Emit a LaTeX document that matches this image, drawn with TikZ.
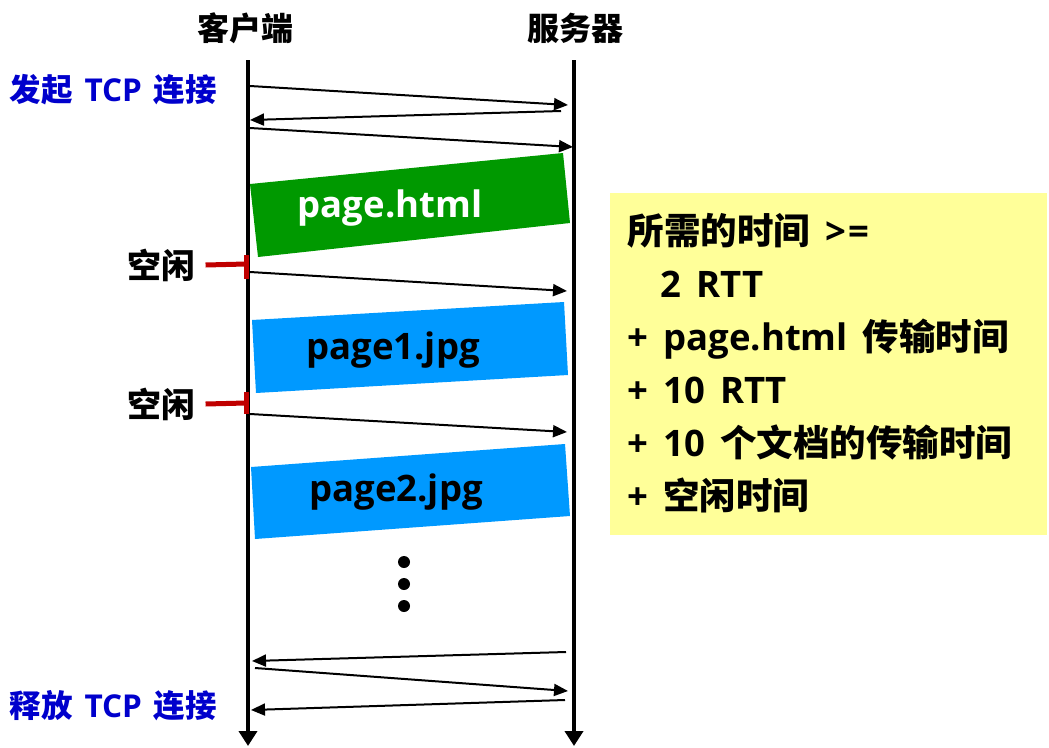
\documentclass[tikz,border=0pt]{standalone}
\usepackage{fontspec}
\setmainfont{Open Sans}
\newfontfamily\cjk{Noto Sans CJK SC}
\usetikzlibrary{arrows.meta}
\definecolor{pktgreen}{RGB}{0,153,0}
\definecolor{pktblue}{RGB}{0,153,255}
\definecolor{notebg}{RGB}{255,255,153}
\definecolor{idlered}{RGB}{192,0,0}
\definecolor{tcpblue}{RGB}{0,0,204}
\newcommand{\gap}{\hspace{15pt}}
\tikzset{
	lifeline/.style={line width=4.5pt,-{Triangle[length=15pt,width=18pt]}},
	msg/.style={line width=2pt,->},
	idlemark/.style={idlered,line width=5pt},
	head/.style={font=\fontsize{32}{36}\selectfont\bfseries\cjk},
	phase/.style={tcpblue,font=\fontsize{31.5}{36}\selectfont\bfseries,anchor=west},
	idletext/.style={font=\fontsize{34}{38}\selectfont\bfseries\cjk},
	pkttext/.style={font=\fontsize{36.5}{40}\selectfont\bfseries},
}
\begin{document}
\begin{tikzpicture}[>={Triangle[length=14pt,width=12pt]},x=1pt,y=-1pt]
		\useasboundingbox (0,0) rectangle (1049,747);
		% lifelines
		\node[head] (client) at (245,28) {客户端};
		\node[head] (server) at (575,28) {服务器};
		\coordinate (ctop) at (248,60);
		\coordinate (cbot) at (248,746);
		\coordinate (stop) at (574,60);
		\coordinate (sbot) at (574,746);
		\draw[lifeline] (ctop)--(cbot);
		\draw[lifeline] (stop)--(sbot);
		\node[phase] (open) at (6,90) {{\cjk 发起}\hspace{12pt}TCP\hspace{12pt}{\cjk 连接}};
		\node[phase] (close) at (6,706) {{\cjk 释放}\hspace{12pt}TCP\hspace{12pt}{\cjk 连接}};
		% handshake
		\coordinate (c1) at (250,86);  \coordinate (s1) at (568,105);
		\coordinate (s2) at (561,111); \coordinate (c2) at (250,120);
		\coordinate (c3) at (250,128); \coordinate (s3) at (573,147);
		\draw[msg] (c1)--(s1);
		\draw[msg] (s2)--(c2);
		\draw[msg] (c3)--(s3);
		% packets
		\fill[pktgreen] (250,184)--(563,153)--(570,223)--(258,257)--cycle;
		\node[pkttext,white] (html) at (390,208) {page.html};
		\fill[pktblue] (252,320)--(564,302)--(568,375)--(256,393)--cycle;
		\node[pkttext] (jpg1) at (393,350) {page1.jpg};
		\fill[pktblue] (251,467)--(565,444)--(570,516)--(255,539)--cycle;
		\node[pkttext] (jpg2) at (396,492) {page2.jpg};
		% idle
		\node[idletext] (idle1) at (161,265) {空闲};
		\node[idletext] (idle2) at (161,404) {空闲};
		\coordinate (i1) at (246,264); \coordinate (i2) at (246,403);
		\draw[idlemark] (idle1.east)++(7,0)--(i1);
		\draw[idlemark] (246,255)--(246,279);
		\draw[idlemark] (idle2.east)++(7,0)--(i2);
		\draw[idlemark] (246,392)--(246,414);
		\coordinate (c4) at (250,272); \coordinate (s4) at (567,291);
		\coordinate (c5) at (250,414); \coordinate (s5) at (567,432);
		\draw[msg] (c4)--(s4);
		\draw[msg] (c5)--(s5);
		\foreach \y in {562,584,606}
		\fill (404,\y) circle (6);
		% teardown
		\coordinate (s6) at (566,652); \coordinate (c6) at (252,661);
		\coordinate (c7) at (255,668); \coordinate (s7) at (568,691);
		\coordinate (s8) at (565,700); \coordinate (c8) at (251,710);
		\draw[msg] (s6)--(c6);
		\draw[msg] (c7)--(s7);
		\draw[msg] (s8)--(c8);
		% note
		\fill[notebg] (610,193) rectangle (1047,535);
		\node[anchor=north west,align=left,font=\fontsize{36.5}{53}\selectfont\bfseries] (note) at (624,210)
		{{\cjk 所需的时间}\gap>\hspace{3pt}=\\
			\hspace*{33pt}2\gap RTT\\
			+\gap page.html\gap{\cjk 传输时间}\\
			+\gap 10\gap RTT\\
			+\gap 10\gap{\cjk 个文档的传输时间}\\
			+\gap{\cjk 空闲时间}};
	\end{tikzpicture}
\end{document}
